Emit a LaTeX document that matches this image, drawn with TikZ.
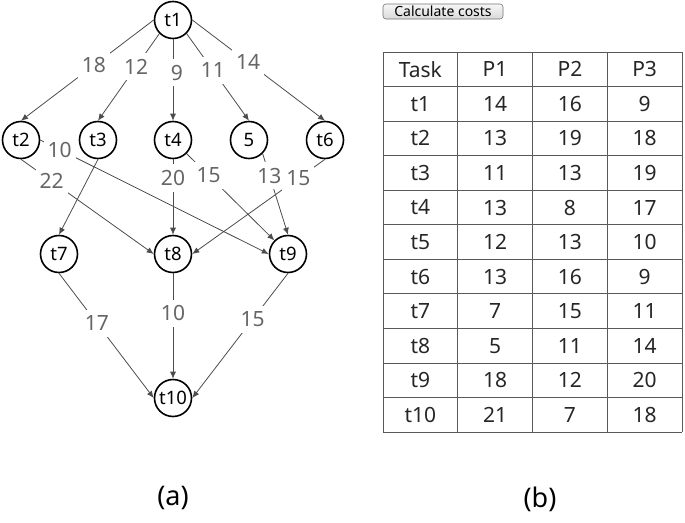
\documentclass[tikz,border=0pt]{standalone}
\usepackage{fontspec}
\setmainfont{Noto Sans}
\usepackage{tikz}
\usetikzlibrary{arrows.meta}
\tikzset{>={Latex[length=7pt,width=6pt]},
    task/.style={circle, draw=black, line width=1.6pt, minimum size=37pt, inner sep=0pt,
        font=\fontsize{18.5}{20}\selectfont},
    dep/.style={->, draw=black!70, line width=0.8pt},
    cost/.style={fill=white, text=black!60, inner xsep=4pt, inner ysep=6pt, font=\fontsize{21}{22}\selectfont},
    cell/.style={text=black!85, font=\fontsize{21}{24}\selectfont},
    tablerule/.style={draw=black!65, line width=0.8pt},
    button/.style={draw=black!55, top color=black!3, bottom color=black!15, rounded corners=3pt, line width=0.6pt,
        minimum width=120pt, minimum height=15pt, inner sep=0pt, font=\fontsize{14}{15}\selectfont},
    caption/.style={font=\fontsize{27}{30}\selectfont}}

\begin{document}
\begin{tikzpicture}[x=1pt, y=-1pt]
    \useasboundingbox (0,0) rectangle (685,522);
    % (a) task graph
    \node[task] at (173, 20) (t1) {t1};
    \node[task] at (21, 140) (t2) {t2};
    \node[task] at (98, 140) (t3) {t3};
    \node[task] at (173, 140) (t4) {t4};
    \node[task] at (249, 140) (t5) {5};
    \node[task] at (325, 140) (t6) {t6};
    \node[task] at (59, 254) (t7) {t7};
    \node[task] at (173, 254) (t8) {t8};
    \node[task] at (288, 254) (t9) {t9};
    \node[task] at (173, 398) (t10) {t10};
    \draw[dep] (t1.west) -- (t2.north) node[cost, pos=0.45] {18};
    \draw[dep] (t1.south west) -- (t3.north) node[cost, pos=0.38] {12};
    \draw[dep] (t1.south) -- (t4.north) node[cost, pos=0.41, xshift=4pt] {9};
    \draw[dep] (t1.south east) -- (t5.north) node[cost, pos=0.42] {11};
    \draw[dep] (t1.east) -- (t6.north) node[cost, pos=0.42] {14};
    \draw[dep] (t2.south) -- (t8.west) node[cost, pos=0.23] {22};
    \draw[dep] (t2.east) -- (t9.west) node[cost, pos=0.085] {10};
    \draw[dep] (t3.south) -- (t7.north);
    \draw[dep] (t4.south) -- (t8.north) node[cost, pos=0.25] {20};
    \draw[dep] (t4.south east) -- (t9.north west) node[cost, pos=0.25] {15};
    \draw[dep] (t5.south east) -- (t9.north) node[cost, pos=0.27] {13};
    \draw[dep] (t6.south) -- (t8.east) node[cost, pos=0.2] {15};
    \draw[dep] (t7.south) -- (t10.west) node[cost, pos=0.4] {17};
    \draw[dep] (t8.south) -- (t10.north) node[cost, pos=0.38] {10};
    \draw[dep] (t9.south) -- (t10.east) node[cost, pos=0.37] {15};
    \node[caption] at (173, 498) (capa) {(a)};
    % (b) cost table
    \node[button] at (443, 11.5) (calc) {Calculate costs};
    \foreach \i in {0,...,11}
        \draw[tablerule] (383, {52+34.55*\i}) -- (682, {52+34.55*\i});
    \foreach \x in {383, 457.75, 532.5, 607.25, 682}
        \draw[tablerule] (\x, 52) -- (\x, 432);
    \foreach \tname/\pa/\pb/\pc [count=\i from 0] in {Task/P1/P2/P3, t1/14/16/9,
        t2/13/19/18, t3/11/13/19, t4/13/8/17, t5/12/13/10, t6/13/16/9, t7/7/15/11,
        t8/5/11/14, t9/18/12/20, t10/21/7/18}{
        \pgfmathsetmacro{\ry}{69.3+34.55*\i}
        \node[cell] at (420.4, \ry) (r\i-0) {\tname};
        \node[cell] at (495.1, \ry) (r\i-1) {\pa};
        \node[cell] at (569.9, \ry) (r\i-2) {\pb};
        \node[cell] at (644.6, \ry) (r\i-3) {\pc};
    }
    \node[caption] at (540, 499) (capb) {(b)};
\end{tikzpicture}
\end{document}
